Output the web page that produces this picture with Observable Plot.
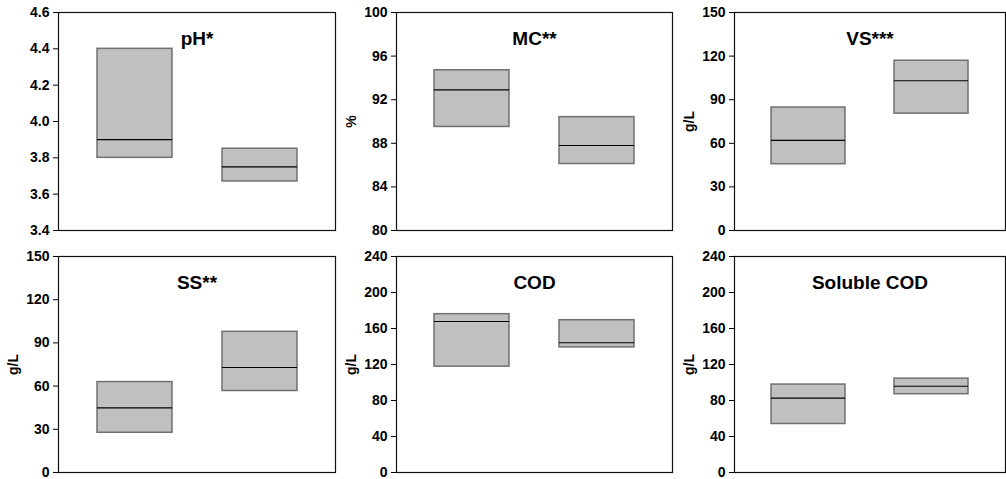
<!DOCTYPE html>
<html>
<head>
<meta charset="utf-8">
<script src="https://cdn.jsdelivr.net/npm/d3@7"></script>
<script src="https://cdn.jsdelivr.net/npm/@observablehq/plot@0.6"></script>
<style>
  html, body { margin: 0; padding: 0; background: #fff; }
  #chart { position: relative; width: 1006px; height: 479px; overflow: hidden; }
  #chart > svg { position: absolute; overflow: visible; }
</style>
</head>
<body>
<div id="chart"></div>
<script>
// ---- data ----
const groups = ["Group 1", "Group 2"];
const panelTitles = ["pH*", "MC**", "VS***", "SS**", "COD", "Soluble COD"];
const yLabels = ["", "%", "g/L", "g/L", "g/L", "g/L"];
const yDomains = [[3.4, 4.6], [80, 100], [0, 150], [0, 150], [0, 240], [0, 240]];
const yTicks = [
  [3.4, 3.6, 3.8, 4.0, 4.2, 4.4, 4.6],
  [80, 84, 88, 92, 96, 100],
  [0, 30, 60, 90, 120, 150],
  [0, 30, 60, 90, 120, 150],
  [0, 40, 80, 120, 160, 200, 240],
  [0, 40, 80, 120, 160, 200, 240]
];
const tickDecimals = [1, 0, 0, 0, 0, 0];
// lower edge, median, upper edge of each box: [group 1, group 2]
const lowerValues  = [[3.80, 3.67], [89.5, 86.1], [45.6, 80.4], [27.6, 56.6], [117.6, 139.0], [53.9, 87.0]];
const medianValues = [[3.90, 3.75], [92.9, 87.8], [62.0, 103.0], [44.9, 72.9], [167.8, 144.1], [82.6, 95.9]];
const upperValues  = [[4.40, 3.85], [94.7, 90.4], [84.6, 116.8], [62.8, 97.7], [175.9, 169.2], [97.7, 104.3]];

// ---- layout ----
const colLeft = [0, 338, 676];
const frameWidth = [277, 276, 271];
const rowTop = [0, 244];
const rowHeight = [238, 235];
const rowMarginBottom = [8, 7];
const marginLeft = 58;

const chart = document.getElementById("chart");

panelTitles.forEach((title, p) => {
  const col = p % 3, row = Math.floor(p / 3);
  const rows = groups.map((g, i) => ({
    group: g,
    low: lowerValues[p][i],
    med: medianValues[p][i],
    high: upperValues[p][i]
  }));
  const dec = tickDecimals[p];
  const svg = Plot.plot({
    width: marginLeft + frameWidth[col] + (col === 2 ? 0 : 2),
    height: rowHeight[row],
    marginLeft,
    marginRight: col === 2 ? 0 : 2,
    marginTop: 12,
    marginBottom: rowMarginBottom[row],
    style: {
      fontFamily: "'Liberation Sans', Arial, sans-serif",
      fontSize: "14px",
      fontWeight: "bold",
      color: "#000",
      background: "transparent",
      overflow: "visible"
    },
    x: { type: "band", domain: groups, paddingInner: 0.4, paddingOuter: 0.3, axis: null },
    y: { domain: yDomains[p] },
    marks: [
      Plot.barY(rows, {
        x: "group", y1: "low", y2: "high",
        fill: "#c0c0c0", stroke: "#707070", strokeWidth: 1.5, inset: 0
      }),
      Plot.tickY(rows, { x: "group", y: "med", stroke: "#000", strokeWidth: 1.1 }),
      Plot.frame({ stroke: "#111", strokeWidth: 1.2 }),
      Plot.axisY({
        ticks: yTicks[p],
        tickFormat: d => d.toFixed(dec),
        tickSize: 5,
        tickPadding: 4,
        label: yLabels[p] || null,
        labelAnchor: "center",
        labelArrow: "none",
        labelOffset: 50,
        fontSize: 14,
        fontWeight: "bold"
      }),
      Plot.text([title], {
        frameAnchor: "top", dy: 26, lineAnchor: "middle",
        text: d => d, fontSize: 19, fontWeight: "bold", fill: "#000"
      })
    ]
  });
  svg.style.left = colLeft[col] + "px";
  svg.style.top = rowTop[row] + "px";
  chart.appendChild(svg);
});
</script>
</body>
</html>
